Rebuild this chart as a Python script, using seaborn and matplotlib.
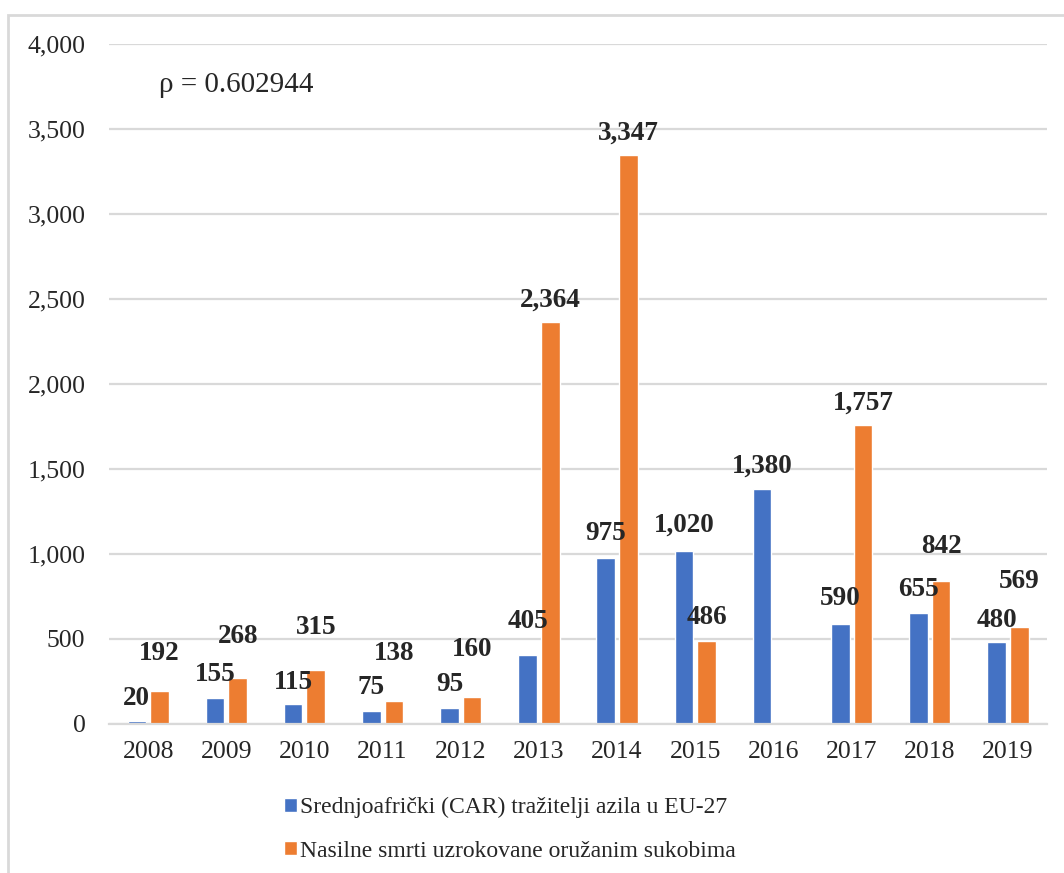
import matplotlib.pyplot as plt
import numpy as np
import pandas as pd
import seaborn as sns
from matplotlib.patches import Rectangle

# podaci
years = ["2008", "2009", "2010", "2011", "2012", "2013", "2014", "2015", "2016", "2017", "2018", "2019"]
asylum = [20, 155, 115, 75, 95, 405, 975, 1020, 1380, 590, 655, 480]
deaths = [192, 268, 315, 138, 160, 2364, 3347, 486, np.nan, 1757, 842, 569]
series_names = ["Srednjoafrički (CAR) tražitelji azila u EU-27",
                "Nasilne smrti uzrokovane oružanim sukobima"]
rho_text = "ρ = 0.602944"

# pomak oznaka iznad stupaca (u točkama) - kao u originalu
lift_blue = [7, 8, 7, 8, 8, 15, 9, 9, 8, 9, 8, 7]
lift_orange = [18, 21, 22, 25, 25, 7, 7, 8, 0, 7, 16, 24]

df = pd.DataFrame({
    "Godina": years * 2,
    "Vrijednost": asylum + deaths,
    "Serija": [series_names[0]] * len(years) + [series_names[1]] * len(years),
})

sns.set_style("white")
plt.rcParams["font.family"] = ["Liberation Serif", "DejaVu Serif"]

fig = plt.figure(figsize=(10.64, 8.73), dpi=100)
ax = fig.add_axes([0.1025, 0.1707, 0.8815, 0.7789])

sns.barplot(data=df, x="Godina", y="Vrijednost", hue="Serija",
            palette=["#4472C4", "#ED7D31"], width=0.58, gap=0.18,
            ax=ax, saturation=1)

ax.set_ylim(0, 4000)
ax.set_yticks(range(0, 4001, 500))
ax.yaxis.set_major_formatter(plt.FuncFormatter(lambda v, p: f"{int(v):,}"))
ax.grid(axis="y", color="#D9D9D9", linewidth=1.6)
ax.set_axisbelow(True)
for s in ["top", "right", "left"]:
    ax.spines[s].set_visible(False)
ax.spines["bottom"].set_color("#D9D9D9")
ax.spines["bottom"].set_linewidth(1.6)
ax.tick_params(axis="y", length=0, pad=17, labelsize=18.5)
ax.tick_params(axis="x", length=0, pad=12, labelsize=18.5)
ax.set_xlabel("")
ax.set_ylabel("")

# oznake vrijednosti (stupac -> godina preko položaja na osi x)
for cont, lifts in zip(ax.containers, [lift_blue, lift_orange]):
    for bar in cont:
        h = bar.get_height()
        if np.isnan(h):
            continue
        xc = bar.get_x() + bar.get_width() / 2
        i = int(round(xc))
        ax.annotate(f"{int(round(h)):,}", (xc, h),
                    xytext=(0, lifts[i]), textcoords="offset points",
                    ha="center", va="bottom", fontsize=19.5, fontweight="bold")

ax.text(0.053, 0.94, rho_text, transform=ax.transAxes, fontsize=21,
        ha="left", va="center")

handles, labels = ax.get_legend_handles_labels()
ax.legend(handles, labels, loc="upper left", bbox_to_anchor=(0.258, 0.098),
          bbox_transform=fig.transFigure, frameon=False, fontsize=17,
          handlelength=0.55, handleheight=0.55, handletextpad=0.15,
          labelspacing=0.95, borderaxespad=0)

# okvir grafikona
fig.patches.append(Rectangle((8 / 1064, -0.1), 1.2, 1 - 15 / 873 + 0.1,
                             transform=fig.transFigure, fill=False,
                             edgecolor="#D9D9D9", linewidth=2))

fig.savefig("out.png", dpi=100)
